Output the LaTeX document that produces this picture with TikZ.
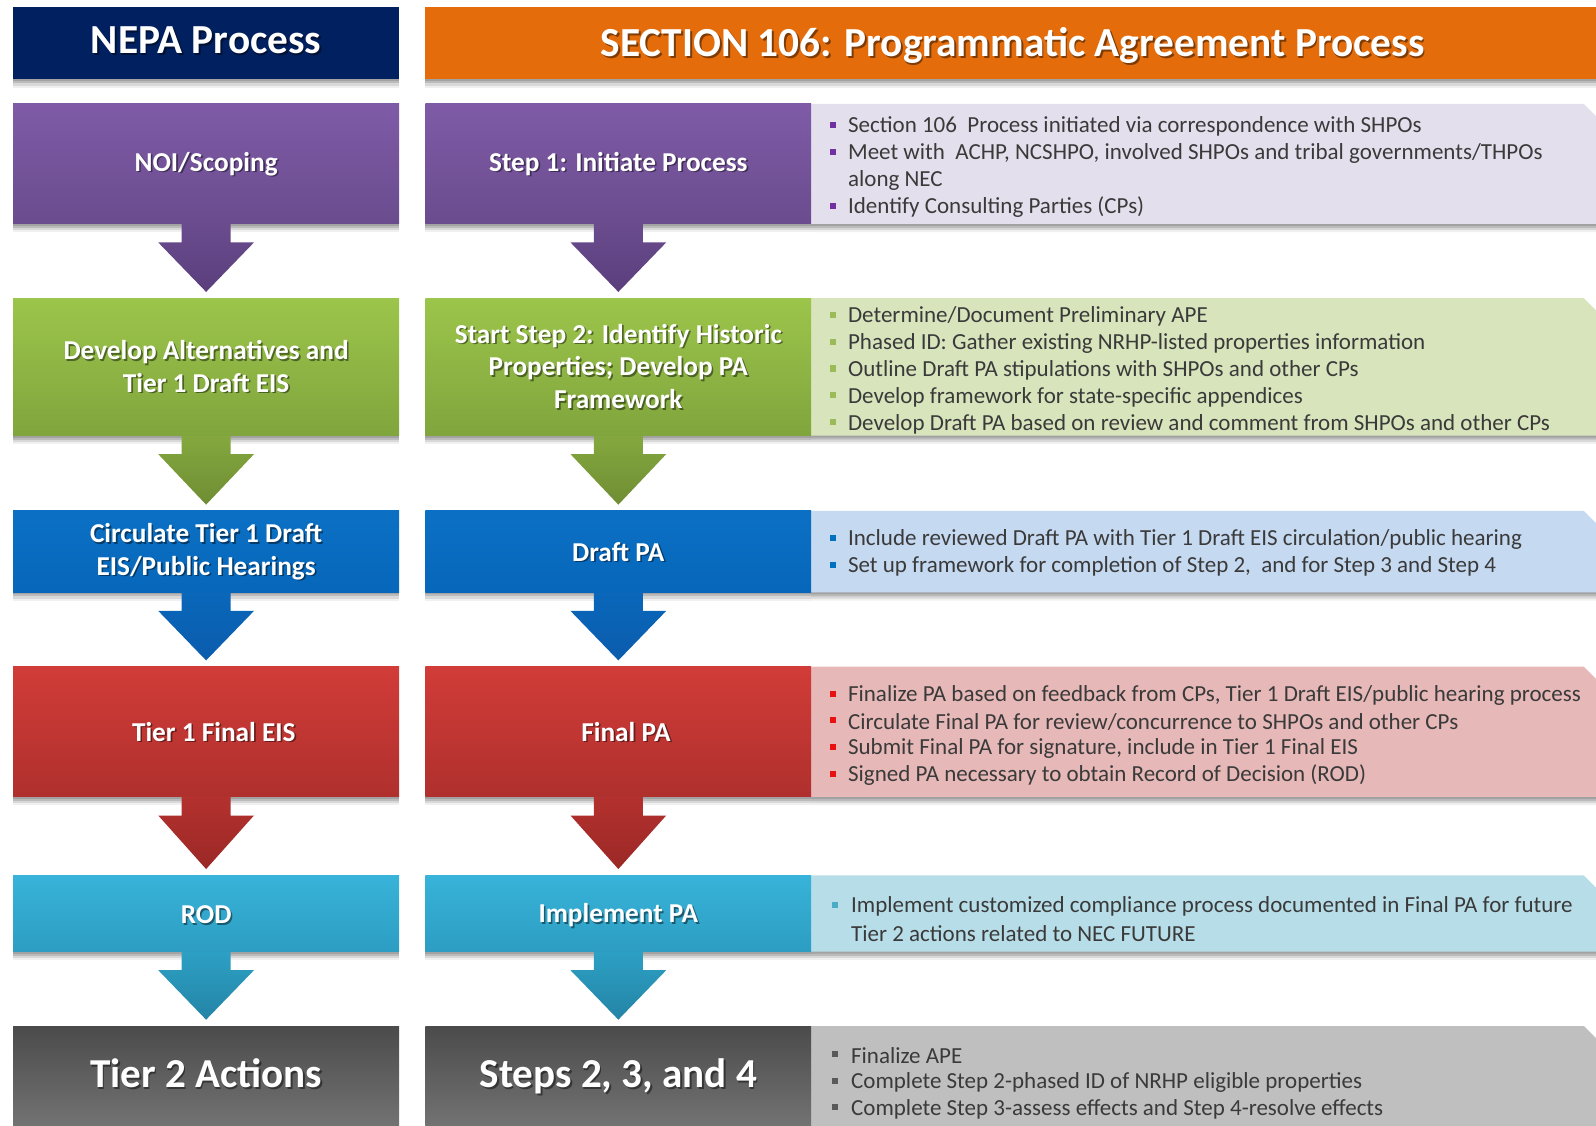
\documentclass[tikz,border=0pt]{standalone}
\usepackage{fontspec}
\setmainfont{Carlito}
\usetikzlibrary{calc,shadows}

\definecolor{navy}{HTML}{002060}
\definecolor{orng}{HTML}{E46C0A}
\definecolor{txtgray}{HTML}{3A3A3A}
\definecolor{purT}{HTML}{7F5BA7}\definecolor{purB}{HTML}{6A4C8E}
\definecolor{purAT}{HTML}{6A4C8E}\definecolor{purAB}{HTML}{5A3E7C}
\definecolor{purP}{HTML}{E4DFEC}\definecolor{purBul}{HTML}{7030A0}
\definecolor{grnT}{HTML}{9CC54B}\definecolor{grnB}{HTML}{80A53D}
\definecolor{grnAT}{HTML}{84A83F}\definecolor{grnAB}{HTML}{6F8D33}
\definecolor{grnP}{HTML}{D8E4BC}\definecolor{grnBul}{HTML}{9BBB59}
\definecolor{bluT}{HTML}{0B70C4}\definecolor{bluB}{HTML}{0767BA}
\definecolor{bluAT}{HTML}{0A67BA}\definecolor{bluAB}{HTML}{0B5CAD}
\definecolor{bluP}{HTML}{C5D9F1}\definecolor{bluBul}{HTML}{0070C0}
\definecolor{redT}{HTML}{D13C38}\definecolor{redB}{HTML}{AF302D}
\definecolor{redAT}{HTML}{B3312E}\definecolor{redAB}{HTML}{9B2826}
\definecolor{redP}{HTML}{E6B8B7}\definecolor{redBul}{HTML}{E81010}
\definecolor{cyaT}{HTML}{38B3D9}\definecolor{cyaB}{HTML}{2D9DC2}
\definecolor{cyaAT}{HTML}{2CA0C4}\definecolor{cyaAB}{HTML}{2484A6}
\definecolor{cyaP}{HTML}{B7DEE8}\definecolor{cyaBul}{HTML}{4BACC6}
\definecolor{gryT}{HTML}{4B4B4B}\definecolor{gryB}{HTML}{7C7C7C}
\definecolor{gryP}{HTML}{BFBFBF}\definecolor{gryBul}{HTML}{595959}

\tikzset{
  softshadow/.style={
    general shadow={fill=black, opacity=0.14, shadow xshift=0pt, shadow yshift=-2pt},
    general shadow={fill=black, opacity=0.13, shadow xshift=0pt, shadow yshift=-4pt},
    general shadow={fill=black, opacity=0.10, shadow xshift=0pt, shadow yshift=-6pt},
    general shadow={fill=black, opacity=0.06, shadow xshift=0pt, shadow yshift=-8pt}},
  boxnode/.style={rectangle, inner sep=0pt, softshadow},
  lbl/.style={text=white, font=\bfseries\fontsize{26.8}{32}\selectfont, align=center, inner sep=0pt},
  biglbl/.style={lbl, font=\bfseries\fontsize{40.4}{46}\selectfont, text height=27pt, text depth=8pt},
  hdrlbl/.style={lbl, font=\bfseries\fontsize{40.6}{46}\selectfont},
  ptext/.style={anchor=west, inner sep=0pt, text=txtgray, font=\fontsize{22.6}{26}\selectfont, yshift=-1.5pt},
  bul/.style={rectangle, inner sep=0pt, minimum size=6pt},
}

% #1 name, #2 cx, #3 cy, #4 width, #5 height, #6 top colour, #7 bottom colour
\newcommand\stepbox[7]{%
  \node[boxnode, minimum width=#4pt, minimum height=#5pt, top color=#6, bottom color=#7] (#1) at (#2,#3) {};}
% #1 name, #2 position, #3 style, #4 text
\newcommand\boxlabel[4]{%
  \node[#3, text=black, text opacity=0.45] (#1-sh) at ($(#2)+(1.6,1.6)$) {#4};
  \node[#3] (#1) at (#2) {#4};}
% #1 from node, #2 to node, #3 top colour, #4 bottom colour
\newcommand\flowarrow[4]{%
  \path[top color=#3, bottom color=#4] let \p1=(#1.south), \p2=(#2.north) in
    (\x1-24pt,\y1) -- (\x1-24pt,\y1-18pt) -- (\x1-47pt,\y1-18pt) -- (\x1,\y2+6pt)
    -- (\x1+47pt,\y1-18pt) -- (\x1+24pt,\y1-18pt) -- (\x1+24pt,\y1) -- cycle;}
% #1 y top, #2 y bottom, #3 colour
\newcommand\sidepanel[3]{%
  \path[fill=#3, softshadow] (797,#1) -- (1556,#1) -- (1568,#1+12) -- (1568,#2) -- (797,#2) -- cycle;}
% #1 name, #2 x bullet, #3 y, #4 bullet colour, #5 text style, #6 text x, #7 text
\newcommand\bline[7]{%
  \node[bul, fill=#4] (#1-b) at (#2,#3) {};
  \node[#5] (#1) at (#6,#3) {#7};}

\begin{document}
\begin{tikzpicture}[x=1pt,y=-1pt]
\useasboundingbox (0,0) rectangle (1568,1105.3);
\clip (0,0) rectangle (1568,1105.3);

% headers
\node[boxnode, minimum width=379pt, minimum height=71pt, fill=navy] (hnepa) at (202.5,42.5) {};
\node[boxnode, minimum width=1170pt, minimum height=71pt, fill=orng] (hsec) at (1003,42.5) {};
\boxlabel{hnepa-t}{202.5,40}{hdrlbl}{NEPA Process}
\boxlabel{hsec-t}{995,45}{hdrlbl}{SECTION 106: Programmatic Agreement Process}

% right panels
\sidepanel{102}{220}{purP}
\sidepanel{293}{428}{grnP}
\sidepanel{502}{582}{bluP}
\sidepanel{655}{783}{redP}
\sidepanel{860}{935}{cyaP}
\sidepanel{1008}{1130}{gryP}

% boxes
\stepbox{l1}{202.5}{161}{379}{118}{purT}{purB}
\stepbox{m1}{607.5}{161}{379}{118}{purT}{purB}
\stepbox{l2}{202.5}{360.5}{379}{135}{grnT}{grnB}
\stepbox{m2}{607.5}{360.5}{379}{135}{grnT}{grnB}
\stepbox{l3}{202.5}{542}{379}{80}{bluT}{bluB}
\stepbox{m3}{607.5}{542}{379}{80}{bluT}{bluB}
\stepbox{l4}{202.5}{719}{379}{128}{redT}{redB}
\stepbox{m4}{607.5}{719}{379}{128}{redT}{redB}
\stepbox{l5}{202.5}{897.5}{379}{75}{cyaT}{cyaB}
\stepbox{m5}{607.5}{897.5}{379}{75}{cyaT}{cyaB}
\stepbox{l6}{202.5}{1069}{379}{122}{gryT}{gryB}
\stepbox{m6}{607.5}{1069}{379}{122}{gryT}{gryB}

% arrows
\flowarrow{l1}{l2}{purAT}{purAB}
\flowarrow{m1}{m2}{purAT}{purAB}
\flowarrow{l2}{l3}{grnAT}{grnAB}
\flowarrow{m2}{m3}{grnAT}{grnAB}
\flowarrow{l3}{l4}{bluAT}{bluAB}
\flowarrow{m3}{m4}{bluAT}{bluAB}
\flowarrow{l4}{l5}{redAT}{redAB}
\flowarrow{m4}{m5}{redAT}{redAB}
\flowarrow{l5}{l6}{cyaAT}{cyaAB}
\flowarrow{m5}{m6}{cyaAT}{cyaAB}

% box labels
\boxlabel{l1-t}{202.5,161}{lbl}{NOI/Scoping}
\boxlabel{m1-t}{607.5,161}{lbl}{Step 1: Initiate Process}
\boxlabel{l2-t}{202.5,360}{lbl}{Develop Alternatives and\\Tier 1 Draft EIS}
\boxlabel{m2-t}{607.5,360}{lbl}{Start Step 2: Identify Historic\\Properties; Develop PA\\Framework}
\boxlabel{l3-t}{202.5,542}{lbl}{Circulate Tier 1 Draft\\EIS/Public Hearings}
\boxlabel{m3-t}{607.5,542}{lbl}{Draft PA}
\boxlabel{l4-t}{210,719}{lbl}{Tier 1 Final EIS}
\boxlabel{m4-t}{615,719}{lbl}{Final PA}
\boxlabel{l5-t}{202.5,899}{lbl}{ROD}
\boxlabel{m5-t}{607.5,899}{lbl}{Implement PA}
\boxlabel{l6-t}{202.5,1059}{biglbl}{Tier 2 Actions}
\boxlabel{m6-t}{607.5,1059}{biglbl}{Steps 2, 3, and 4}

% panel texts
\bline{p1a}{818}{123}{purBul}{ptext}{833}{Section 106\ \ Process initiated via correspondence with SHPOs}
\bline{p1b}{818}{149}{purBul}{ptext}{833}{Meet with\ \ ACHP, NCSHPO, involved SHPOs and tribal governments/THPOs}
\node[ptext] (p1c) at (833,175.5) {along NEC};
\bline{p1d}{818}{202}{purBul}{ptext}{833}{Identify Consulting Parties (CPs)}

\bline{p2a}{818}{309.5}{grnBul}{ptext}{833}{Determine/Document Preliminary APE}
\bline{p2b}{818}{336}{grnBul}{ptext}{833}{Phased ID: Gather existing NRHP-listed properties information}
\bline{p2c}{818}{362}{grnBul}{ptext}{833}{Outline Draft PA stipulations with SHPOs and other CPs}
\bline{p2d}{818}{388.5}{grnBul}{ptext}{833}{Develop framework for state-specific appendices}
\bline{p2e}{818}{415}{grnBul}{ptext}{833}{Develop Draft PA based on review and comment from SHPOs and other CPs}

\bline{p3a}{818}{528.5}{bluBul}{ptext}{833}{Include reviewed Draft PA with Tier 1 Draft EIS circulation/public hearing}
\bline{p3b}{818}{555}{bluBul}{ptext}{833}{Set up framework for completion of Step 2,\ \ and for Step 3 and Step 4}

\bline{p4a}{818}{681.5}{redBul}{ptext}{833}{Finalize PA based on feedback from CPs, Tier 1 Draft EIS/public hearing process}
\bline{p4b}{818}{707.5}{redBul}{ptext}{833}{Circulate Final PA for review/concurrence to SHPOs and other CPs}
\bline{p4c}{818}{733.5}{redBul}{ptext}{833}{Submit Final PA for signature, include in Tier 1 Final EIS}
\bline{p4d}{818}{760}{redBul}{ptext}{833}{Signed PA necessary to obtain Record of Decision (ROD)}

\bline{p5a}{820}{889}{cyaBul}{ptext}{836}{Implement customized compliance process documented in Final PA for future}
\node[ptext] (p5b) at (836,915.5) {Tier 2 actions related to NEC FUTURE};

\bline{p6a}{820}{1035.5}{gryBul}{ptext}{836}{Finalize APE}
\bline{p6b}{820}{1062}{gryBul}{ptext}{836}{Complete Step 2-phased ID of NRHP eligible properties}
\bline{p6c}{820}{1088}{gryBul}{ptext}{836}{Complete Step 3-assess effects and Step 4-resolve effects}
\end{tikzpicture}
\end{document}
